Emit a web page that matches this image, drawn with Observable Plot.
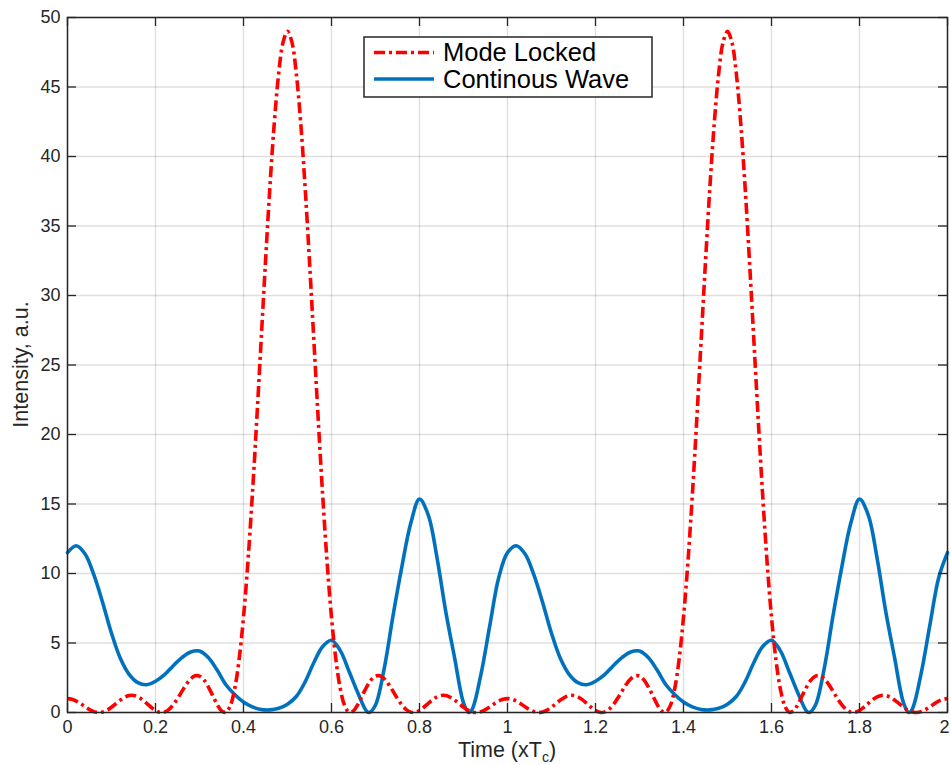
<!DOCTYPE html>
<html>
<head>
<meta charset="utf-8">
<script src="https://cdn.jsdelivr.net/npm/d3@7"></script>
<script src="https://cdn.jsdelivr.net/npm/@observablehq/plot@0.6"></script>
<style>
  html, body { margin: 0; padding: 0; background: #fff; }
  #chart { width: 951px; height: 765px; }
</style>
</head>
<body>
<div id="chart"></div>
<script>
// ---------- data ----------
const seriesNames = ["Mode Locked", "Continous Wave"];
const xLabel = "Time (xT";
const xLabelSub = "c";
const yLabel = "Intensity, a.u.";

const xTicks = [0, 0.2, 0.4, 0.6, 0.8, 1, 1.2, 1.4, 1.6, 1.8, 2];
const xTickLabels = ["0", "0.2", "0.4", "0.6", "0.8", "1", "1.2", "1.4", "1.6", "1.8", "2"];
const yTicks = [0, 5, 10, 15, 20, 25, 30, 35, 40, 45, 50];
const yTickLabels = ["0", "5", "10", "15", "20", "25", "30", "35", "40", "45", "50"];

// Mode Locked (red, dash-dot): time samples and intensity
const redTime = [
  0.00,0.01,0.02,0.03,0.04,0.05,0.06,0.07,0.08,0.09,
  0.10,0.11,0.12,0.13,0.14,0.15,0.16,0.17,0.18,0.19,
  0.20,0.21,0.22,0.23,0.24,0.25,0.26,0.27,0.28,0.29,
  0.30,0.31,0.32,0.33,0.34,0.35,0.36,0.37,0.38,0.39,
  0.40,0.41,0.42,0.43,0.44,0.45,0.46,0.47,0.48,0.49,
  0.50,0.51,0.52,0.53,0.54,0.55,0.56,0.57,0.58,0.59,
  0.60,0.61,0.62,0.63,0.64,0.65,0.66,0.67,0.68,0.69,
  0.70,0.71,0.72,0.73,0.74,0.75,0.76,0.77,0.78,0.79,
  0.80,0.81,0.82,0.83,0.84,0.85,0.86,0.87,0.88,0.89,
  0.90,0.91,0.92,0.93,0.94,0.95,0.96,0.97,0.98,0.99,
  1.00,1.01,1.02,1.03,1.04,1.05,1.06,1.07,1.08,1.09,
  1.10,1.11,1.12,1.13,1.14,1.15,1.16,1.17,1.18,1.19,
  1.20,1.21,1.22,1.23,1.24,1.25,1.26,1.27,1.28,1.29,
  1.30,1.31,1.32,1.33,1.34,1.35,1.36,1.37,1.38,1.39,
  1.40,1.41,1.42,1.43,1.44,1.45,1.46,1.47,1.48,1.49,
  1.50,1.51,1.52,1.53,1.54,1.55,1.56,1.57,1.58,1.59,
  1.60,1.61,1.62,1.63,1.64,1.65,1.66,1.67,1.68,1.69,
  1.70,1.71,1.72,1.73,1.74,1.75,1.76,1.77,1.78,1.79,
  1.80,1.81,1.82,1.83,1.84,1.85,1.86,1.87,1.88,1.89,
  1.90,1.91,1.92,1.93,1.94,1.95,1.96,1.97,1.98,1.99,
  2.00
];
const redIntensity = [
  1.000,0.953,0.822,0.630,0.413,0.211,0.064,0.001,0.037,0.171,
  0.382,0.635,0.888,1.095,1.217,1.229,1.126,0.923,0.657,0.379,
  0.146,0.014,0.026,0.204,0.540,1.000,1.521,2.024,2.423,2.638,
  2.618,2.345,1.851,1.219,0.584,0.119,0.022,0.494,1.713,3.811,
  6.854,10.82,15.60,20.99,26.72,32.44,37.80,42.42,45.98,48.23,
  49.00,48.23,45.98,42.42,37.80,32.44,26.72,20.99,15.60,10.82,
  6.854,3.811,1.713,0.494,0.022,0.119,0.584,1.219,1.851,2.345,
  2.618,2.638,2.423,2.024,1.521,1.000,0.540,0.204,0.026,0.014,
  0.146,0.379,0.657,0.923,1.126,1.229,1.217,1.095,0.888,0.635,
  0.382,0.171,0.037,0.001,0.064,0.211,0.413,0.630,0.822,0.953,
  1.000,0.953,0.822,0.630,0.413,0.211,0.064,0.001,0.037,0.171,
  0.382,0.635,0.888,1.095,1.217,1.229,1.126,0.923,0.657,0.379,
  0.146,0.014,0.026,0.204,0.540,1.000,1.521,2.024,2.423,2.638,
  2.618,2.345,1.851,1.219,0.584,0.119,0.022,0.494,1.713,3.811,
  6.854,10.82,15.60,20.99,26.72,32.44,37.80,42.42,45.98,48.23,
  49.00,48.23,45.98,42.42,37.80,32.44,26.72,20.99,15.60,10.82,
  6.854,3.811,1.713,0.494,0.022,0.119,0.584,1.219,1.851,2.345,
  2.618,2.638,2.423,2.024,1.521,1.000,0.540,0.204,0.026,0.014,
  0.146,0.379,0.657,0.923,1.126,1.229,1.217,1.095,0.888,0.635,
  0.382,0.171,0.037,0.001,0.064,0.211,0.413,0.630,0.822,0.953,
  1.000
];

// Continous Wave (blue, solid): time samples and intensity
const blueTime = [
  0.00,0.02,0.04,0.06,0.08,0.10,0.12,0.14,0.16,0.18,
  0.20,0.22,0.24,0.26,0.28,0.30,0.32,0.34,0.36,0.38,
  0.40,0.42,0.44,0.46,0.48,0.50,0.52,0.54,0.56,0.58,
  0.60,0.62,0.64,0.66,0.68,0.686,0.70,0.72,0.74,0.76,
  0.78,0.80,0.82,0.84,0.86,0.88,0.90,0.912,0.92,0.94,
  0.96,0.98,1.00,
  1.02,1.04,1.06,1.08,1.10,1.12,1.14,1.16,1.18,
  1.20,1.22,1.24,1.26,1.28,1.30,1.32,1.34,1.36,1.38,
  1.40,1.42,1.44,1.46,1.48,1.50,1.52,1.54,1.56,1.58,
  1.60,1.62,1.64,1.66,1.68,1.686,1.70,1.72,1.74,1.76,
  1.78,1.80,1.82,1.84,1.86,1.88,1.90,1.912,1.92,1.94,
  1.96,1.98,2.00
];
const blueIntensity = [
  11.5,12.0,11.4,9.9,7.9,5.7,3.9,2.75,2.15,2.0,
  2.25,2.7,3.35,3.95,4.35,4.42,3.95,3.05,2.0,1.3,
  0.75,0.4,0.22,0.19,0.3,0.6,1.15,2.2,3.6,4.75,
  5.2,4.45,2.95,1.4,0.08,0,0.54,3.2,7.0,10.5,
  13.6,15.35,14.2,11.1,7.2,3.9,0.7,0,0.25,2.8,
  6.3,9.7,11.5,
  12.0,11.4,9.9,7.9,5.7,3.9,2.75,2.15,2.0,
  2.25,2.7,3.35,3.95,4.35,4.42,3.95,3.05,2.0,1.3,
  0.75,0.4,0.22,0.19,0.3,0.6,1.15,2.2,3.6,4.75,
  5.2,4.45,2.95,1.4,0.08,0,0.54,3.2,7.0,10.5,
  13.6,15.35,14.2,11.1,7.2,3.9,0.7,0,0.25,2.8,
  6.3,9.7,11.5
];

// ---------- build ----------
const redData = redTime.map((t, i) => ({t, v: redIntensity[i]}));
const blueData = blueTime.map((t, i) => ({t, v: blueIntensity[i]}));

const W = 951, H = 765;
const mL = 67, mR = 4, mT = 17, mB = 53;
const frameW = W - mL - mR, frameH = H - mT - mB;
const tickLen = 9;
const axisColor = "#262626";
const redColor = "#ff0000";
const blueColor = "#0072bd";
const redDash = "11,4,3,4";

const chart = Plot.plot({
  width: W,
  height: H,
  marginLeft: mL,
  marginRight: mR,
  marginTop: mT,
  marginBottom: mB,
  style: {fontFamily: "'Liberation Sans', Arial, Helvetica, sans-serif", fontSize: "18px", color: axisColor, background: "#fff"},
  x: {domain: [0, 2]},
  y: {domain: [0, 50]},
  marks: [
    Plot.gridX(xTicks, {stroke: axisColor, strokeOpacity: 0.15, strokeWidth: 1.3}),
    Plot.gridY(yTicks, {stroke: axisColor, strokeOpacity: 0.15, strokeWidth: 1.3}),
    Plot.line(blueData, {x: "t", y: "v", stroke: blueColor, strokeWidth: 3.6, curve: "catmull-rom"}),
    Plot.line(redData, {x: "t", y: "v", stroke: redColor, strokeWidth: 3.6, strokeDasharray: redDash, curve: "catmull-rom", strokeLinecap: "butt"}),
    Plot.tickX(xTicks, {x: d => d, insetTop: frameH - tickLen, stroke: axisColor, strokeWidth: 1.3}),
    Plot.tickX(xTicks, {x: d => d, insetBottom: frameH - tickLen, stroke: axisColor, strokeWidth: 1.3}),
    Plot.tickY(yTicks, {y: d => d, insetRight: frameW - tickLen, stroke: axisColor, strokeWidth: 1.3}),
    Plot.tickY(yTicks, {y: d => d, insetLeft: frameW - tickLen, stroke: axisColor, strokeWidth: 1.3}),
    Plot.axisX({ticks: xTicks, tickSize: 0, tickPadding: 8, tickFormat: (d, i) => xTickLabels[i], label: null}),
    Plot.axisY({ticks: yTicks, tickSize: 0, tickPadding: 7, tickFormat: (d, i) => yTickLabels[i], label: null}),
    Plot.frame({stroke: axisColor, strokeWidth: 1.5})
  ]
});

document.getElementById("chart").appendChild(chart);

const svg = d3.select(chart);
const font = "'Liberation Sans', Arial, Helvetica, sans-serif";

// keep the last x tick label inside the picture
svg.selectAll("text").filter(function () {
  return this.textContent === xTickLabels[xTickLabels.length - 1] && this.closest("g[aria-label='x-axis tick label']");
}).attr("dx", -3);

// y-axis title
svg.append("text")
  .attr("transform", `translate(28, ${mT + frameH / 2}) rotate(-90)`)
  .attr("text-anchor", "middle")
  .attr("font-family", font)
  .attr("font-size", "21.5px")
  .attr("fill", axisColor)
  .text(yLabel);

// x-axis title with subscript
const xt = svg.append("text")
  .attr("x", mL + frameW / 2)
  .attr("y", 757)
  .attr("text-anchor", "middle")
  .attr("font-family", font)
  .attr("font-size", "21.5px")
  .attr("fill", axisColor);
xt.append("tspan").text(xLabel);
xt.append("tspan").attr("dy", 5).attr("font-size", "14px").text(xLabelSub);
xt.append("tspan").attr("dy", -5).text(")");

// legend
const lg = svg.append("g");
lg.append("rect")
  .attr("x", 364).attr("y", 37).attr("width", 288).attr("height", 60)
  .attr("fill", "#fff").attr("stroke", axisColor).attr("stroke-width", 1.5);
const legendItems = [
  {name: seriesNames[0], color: redColor, dash: redDash, y: 52.5},
  {name: seriesNames[1], color: blueColor, dash: null, y: 79}
];
legendItems.forEach(it => {
  lg.append("line")
    .attr("x1", 374).attr("x2", 434).attr("y1", it.y).attr("y2", it.y)
    .attr("stroke", it.color).attr("stroke-width", 3.6)
    .attr("stroke-dasharray", it.dash);
  lg.append("text")
    .attr("x", 443).attr("y", it.y + 8.5)
    .attr("text-anchor", "start")
    .attr("font-family", font).attr("font-size", "25.5px").attr("fill", "#000")
    .text(it.name);
});
</script>
</body>
</html>
